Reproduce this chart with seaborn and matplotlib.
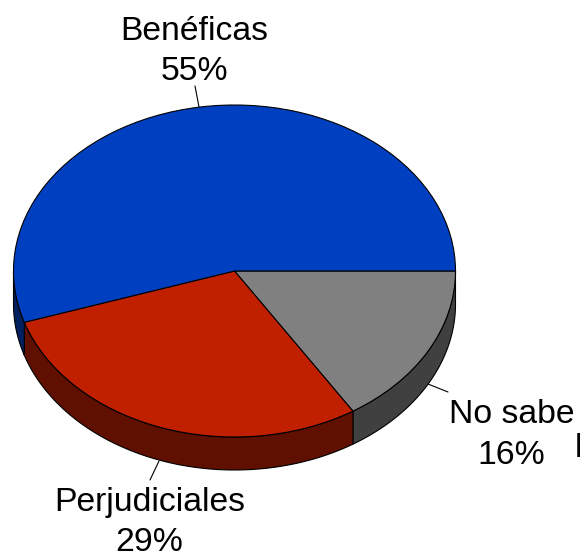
import numpy as np
import matplotlib
matplotlib.use("Agg")
import matplotlib.pyplot as plt
from matplotlib.transforms import Affine2D
import seaborn as sns

categories = ["No sabe", "Perjudiciales", "Benéficas"]
values = [16, 29, 55]
top_colors = ["#808080", "#C02000", "#0040C0"]
side_colors = ["#404040", "#601000", "#002060"]

sns.set_theme(style="white")
plt.rcParams["font.family"] = ["Liberation Sans", "DejaVu Sans"]

W, H = 580, 553
fig = plt.figure(figsize=(W / 100, H / 100), dpi=100, facecolor="white")
ax = fig.add_axes([0, 0, 1, 1])

cx, cy, rx, ry, depth = 234.5, H - 271.0, 221.0, 166.0, 33.0
edge = dict(edgecolor="black", linewidth=0.8)

wedges, _ = ax.pie(values, colors=top_colors, startangle=0, counterclock=False,
                   radius=1, center=(0, 0), wedgeprops=edge)
tf = Affine2D().scale(rx, ry).translate(cx, cy) + ax.transData
for w in wedges:
    w.set_transform(tf)
    w.set_zorder(3)

# side wall of the visible lower half of the disc
bounds = np.cumsum([0] + values) / sum(values) * 360.0
for a, b, col in zip(bounds[:-1], bounds[1:], side_colors):
    a2, b2 = min(a, 180.0), min(b, 180.0)
    if b2 <= a2:
        continue
    t = np.radians(np.linspace(a2, b2, 120))
    xs = cx + rx * np.cos(t)
    ys = cy - ry * np.sin(t)
    px = np.r_[xs, xs[::-1]]
    py = np.r_[ys, ys[::-1] - depth]
    ax.fill(px, py, facecolor=col, zorder=2, **edge)

ax.set_aspect("auto")
ax.set_xlim(0, W)
ax.set_ylim(0, H)
ax.axis("off")

FS = 24.3
label_pos = {"Benéficas": (194.5, 40, 79.5), "No sabe": (511.5, 423, 464), "Perjudiciales": (149.5, 511, 551)}
leaders = {"Benéficas": ((195, 86), (199, 107)),
           "No sabe": ((448, 392), (428, 384)),
           "Perjudiciales": ((150, 480), (159, 461))}
for name, val in zip(categories, values):
    x, y1, y2 = label_pos[name]
    ax.text(x, H - y1, name, ha="center", va="baseline", fontsize=FS, color="black", zorder=5)
    ax.text(x, H - y2, f"{val}%", ha="center", va="baseline", fontsize=FS, color="black", zorder=5)
    (x0, y0), (x1, y1_) = leaders[name]
    ax.plot([x0, x1], [H - y0, H - y1_], color="black", lw=0.8, zorder=1)

ax.text(574.5, H - 457, "l", ha="left", va="baseline", fontsize=FS, color="black", clip_on=True)

fig.savefig("out.png", dpi=100, facecolor="white")
